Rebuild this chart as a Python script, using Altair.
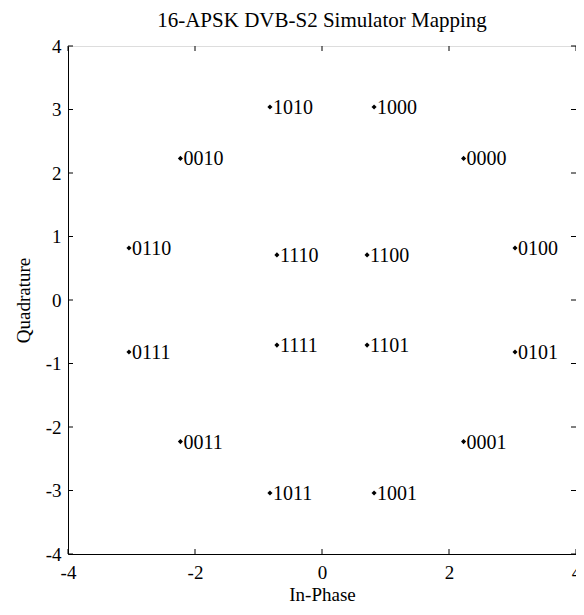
import altair as alt
import pandas as pd

labels = ["0000", "0001", "0010", "0011", "0100", "0101", "0110", "0111",
          "1000", "1001", "1010", "1011", "1100", "1101", "1110", "1111"]
in_phase = [2.23, 2.23, -2.23, -2.23, 3.04, 3.04, -3.04, -3.04,
            0.82, 0.82, -0.82, -0.82, 0.71, 0.71, -0.71, -0.71]
quadrature = [2.23, -2.23, 2.23, -2.23, 0.82, -0.82, 0.82, -0.82,
              3.04, -3.04, 3.04, -3.04, 0.71, -0.71, 0.71, -0.71]

x_ticks = [-4, -2, 0, 2, 4]
y_ticks = [-4, -3, -2, -1, 0, 1, 2, 3, 4]

df = pd.DataFrame({"I": in_phase, "Q": quadrature, "label": labels})
xt = pd.DataFrame({"t": x_ticks})
yt = pd.DataFrame({"t": y_ticks})

FONT = "Liberation Serif"
W, H = 508, 508
TL = 5

xs = alt.Scale(domain=[-4, 4], nice=False, zero=False)
ys = alt.Scale(domain=[-4, 4], nice=False, zero=False)

xaxis = alt.Axis(values=x_ticks, title="In-Phase", tickSize=0, labelPadding=9,
                 labelExpr="datum.value + ''",
                 labelFont=FONT, labelFontSize=19, labelColor="black",
                 titleFont=FONT, titleFontSize=19, titleFontWeight="normal",
                 titleColor="black", titlePadding=3, grid=False,
                 domainColor="black", labelFlush=False)
yaxis = alt.Axis(values=y_ticks, title="Quadrature", tickSize=0, labelPadding=7,
                 labelExpr="datum.value + ''",
                 labelFont=FONT, labelFontSize=19, labelColor="black",
                 titleFont=FONT, titleFontSize=19, titleFontWeight="normal",
                 titleColor="black", titlePadding=12, grid=False,
                 domainColor="black", labelFlush=False)

pts = alt.Chart(df).mark_point(shape="diamond", filled=True, color="black",
                               size=26, opacity=1).encode(
    x=alt.X("I:Q", scale=xs, axis=xaxis),
    y=alt.Y("Q:Q", scale=ys, axis=yaxis),
)

txt = alt.Chart(df).mark_text(align="left", baseline="middle", dx=3, dy=1,
                              font=FONT, fontSize=20, color="black").encode(
    x=alt.X("I:Q", scale=xs),
    y=alt.Y("Q:Q", scale=ys),
    text="label:N",
)

xb = alt.Chart(xt).mark_rule(color="black").encode(
    x=alt.X("t:Q", scale=xs), y=alt.value(H), y2=alt.value(H - TL))
xtop = alt.Chart(xt).mark_rule(color="black").encode(
    x=alt.X("t:Q", scale=xs), y=alt.value(0), y2=alt.value(TL))
yl = alt.Chart(yt).mark_rule(color="black").encode(
    y=alt.Y("t:Q", scale=ys), x=alt.value(0), x2=alt.value(TL))
yr = alt.Chart(yt).mark_rule(color="black").encode(
    y=alt.Y("t:Q", scale=ys), x=alt.value(W), x2=alt.value(W - TL))

chart = alt.layer(pts, txt, xb, xtop, yl, yr).properties(
    width=W, height=H,
    title=alt.TitleParams("16-APSK DVB-S2 Simulator Mapping", font=FONT,
                          fontSize=21, fontWeight="normal", color="black",
                          offset=6),
    autosize=alt.AutoSizeParams(type="none"),
    padding={"left": 60, "top": 38, "right": 0, "bottom": 53},
).configure_view(stroke="black", strokeWidth=1).configure(background="white")

chart.save("out.html", embed_options={"renderer": "svg", "actions": False})
